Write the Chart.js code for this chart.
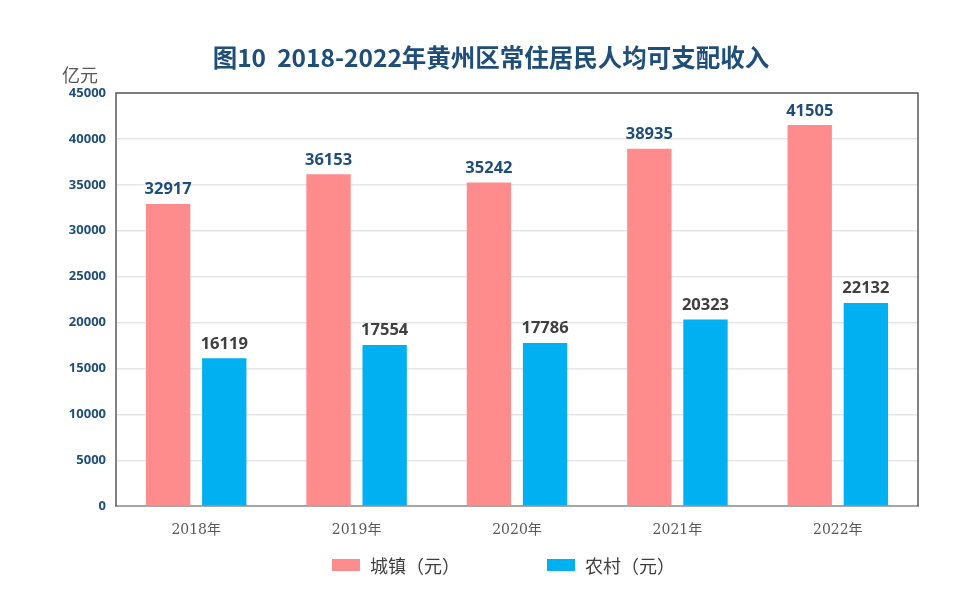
<!DOCTYPE html>
<html>
<head>
<meta charset="utf-8">
<script src="https://cdn.jsdelivr.net/npm/chart.js@4/dist/chart.umd.min.js"></script>
<style>
  body { margin: 0; background: #fff; }
  #wrap { width: 975px; height: 607px; }
</style>
</head>
<body>
<div id="wrap"><canvas id="incomeChart"></canvas></div>
<script>
const chartTitle = '图10  2018-2022年黄州区常住居民人均可支配收入';
const years = ['2018年', '2019年', '2020年', '2021年', '2022年'];
const urban = [32917, 36153, 35242, 38935, 41505];
const rural = [16119, 17554, 17786, 20323, 22132];
const seriesNames = ['城镇（元）', '农村（元）'];
const seriesColors = ['#FF8C8C', '#00B0F0'];

const labelPlugin = {
  id: 'extras',
  afterDatasetsDraw(chart) {
    const ctx = chart.ctx;
    ctx.save();
    ctx.font = 'bold 16.5px "Open Sans", "Noto Sans CJK SC", sans-serif';
    ctx.textAlign = 'center';
    ctx.textBaseline = 'bottom';
    chart.data.datasets.forEach((ds, i) => {
      ctx.fillStyle = i === 0 ? '#1F4E79' : '#404040';
      chart.getDatasetMeta(i).data.forEach((bar, j) => {
        ctx.fillText(ds.data[j], bar.x, bar.y - 6);
      });
    });
    // frame on left, top, right
    const a = chart.chartArea;
    ctx.strokeStyle = '#595959';
    ctx.lineWidth = 1.5;
    ctx.beginPath();
    ctx.moveTo(a.left, a.bottom);
    ctx.lineTo(a.left, a.top);
    ctx.lineTo(a.right, a.top);
    ctx.lineTo(a.right, a.bottom);
    ctx.stroke();
    // title, centred like the original
    ctx.font = 'bold 24.5px "Noto Sans CJK SC", sans-serif';
    ctx.fillStyle = '#1F4E79';
    ctx.textAlign = 'center';
    ctx.textBaseline = 'middle';
    ctx.fillText(chartTitle, 491, 58);
    // unit label
    ctx.font = '18px "Noto Sans CJK SC", sans-serif';
    ctx.fillStyle = '#595959';
    ctx.textAlign = 'left';
    ctx.fillText('亿元', 62, 75);
    // legend, spaced as in the original
    const legendX = [332, 547];
    chart.data.datasets.forEach((ds, i) => {
      ctx.fillStyle = ds.backgroundColor;
      ctx.fillRect(legendX[i], 559, 28, 12);
      ctx.fillStyle = '#404040';
      ctx.font = '18px "Noto Sans CJK SC", sans-serif';
      ctx.fillText(ds.label, legendX[i] + 38, 566);
    });
    ctx.restore();
  }
};

new Chart(document.getElementById('incomeChart'), {
  type: 'bar',
  data: {
    labels: years,
    datasets: [
      { label: seriesNames[0], data: urban, backgroundColor: seriesColors[0], categoryPercentage: 0.7, barPercentage: 0.79 },
      { label: seriesNames[1], data: rural, backgroundColor: seriesColors[1], categoryPercentage: 0.7, barPercentage: 0.79 }
    ]
  },
  options: {
    responsive: true,
    maintainAspectRatio: false,
    animation: false,
    layout: { padding: { left: 20, right: 57, top: 93, bottom: 60 } },
    plugins: {
      title: { display: false },
      legend: { display: false },
      tooltip: { enabled: false }
    },
    scales: {
      x: {
        grid: { display: false },
        border: { color: '#A6A6A6', width: 2 },
        ticks: {
          color: '#595959',
          padding: 8,
          font: { size: 14, family: '"DejaVu Serif", "Noto Sans CJK SC", serif' }
        }
      },
      y: {
        min: 0,
        max: 45000,
        afterFit(scale) { scale.width = 96; },
        grid: { color: '#E6E6E6', lineWidth: 1.5, drawTicks: false },
        border: { display: false },
        ticks: {
          stepSize: 5000,
          color: '#1F4E79',
          padding: 10,
          callback: v => String(v),
          font: { size: 13, weight: 'bold', family: '"Open Sans", sans-serif' }
        }
      }
    }
  },
  plugins: [labelPlugin]
});
</script>
</body>
</html>
